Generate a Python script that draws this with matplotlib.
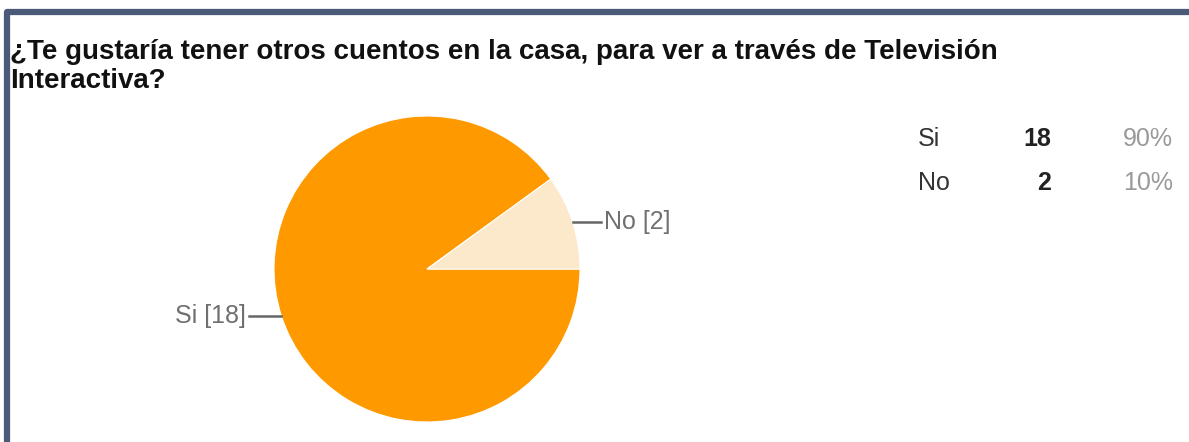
import matplotlib
matplotlib.use("Agg")
import matplotlib.pyplot as plt
import numpy as np

# data
categories = ["Si", "No"]
counts = [18, 2]
percents = ["90%", "10%"]
title_lines = ["¿Te gustaría tener otros cuentos en la casa, para ver a través de Televisión",
               "Interactiva?"]

COLORS = ["#FF9900", "#FCE8CB"]
W, H = 1189, 442

plt.rcParams["font.family"] = ["Liberation Sans", "DejaVu Sans"]
fig = plt.figure(figsize=(W / 100, H / 100), dpi=100)
ax = fig.add_axes([0, 0, 1, 1])

# frame (top and left edges)
ax.plot([7, 7, W], [0, H - 12, H - 12], color="#4A5A78", lw=4.5, solid_capstyle="butt")

# title
ax.text(10, H - 59, title_lines[0], fontsize=20, fontweight="bold", color="#111111", va="baseline")
ax.text(10, H - 88, title_lines[1], fontsize=20, fontweight="bold", color="#111111", va="baseline")

# pie
cx, cy, r = 427, H - 269, 153
wedges, _ = ax.pie(counts, colors=COLORS, startangle=36, counterclock=True,
                   center=(cx, cy), radius=r, frame=True,
                   wedgeprops=dict(edgecolor="white", linewidth=0.8))
ax.set_xlim(0, W)
ax.set_ylim(0, H)
ax.set_aspect("equal")
ax.axis("off")

for w, cat, n in zip(wedges, categories, counts):
    ang = np.deg2rad((w.theta1 + w.theta2) / 2)
    ex, ey = cx + r * np.cos(ang), cy + r * np.sin(ang)
    if np.cos(ang) >= 0:
        ax.plot([ex, ex + 28], [ey, ey], color="#666666", lw=1.8)
        ax.text(ex + 31, ey, f"{cat} [{n}]", fontsize=18, color="#707070", va="center", ha="left")
    else:
        ax.plot([ex, ex - 32], [ey, ey], color="#666666", lw=1.8)
        ax.text(ex - 36, ey, f"{cat} [{n}]", fontsize=18, color="#707070", va="center", ha="right")

# summary table
for i, (cat, n, p) in enumerate(zip(categories, counts, percents)):
    y = H - 139 - 44 * i
    ax.text(918, y, cat, fontsize=18, color="#333333", va="center", ha="left")
    ax.text(1051, y, str(n), fontsize=18, fontweight="bold", color="#222222", va="center", ha="right")
    ax.text(1173, y, p, fontsize=18, color="#999999", va="center", ha="right")

fig.savefig("out.png", dpi=100)
